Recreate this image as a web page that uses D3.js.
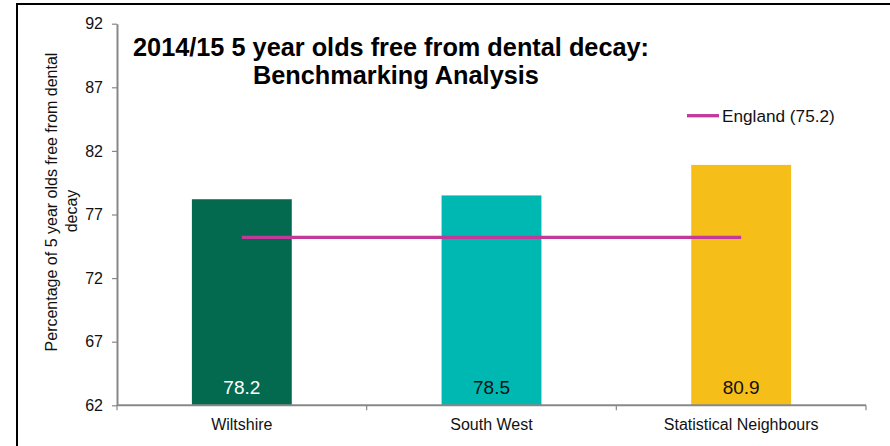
<!DOCTYPE html>
<html>
<head>
<meta charset="utf-8">
<script src="https://cdn.jsdelivr.net/npm/d3@7"></script>
<style>
  html, body { margin: 0; padding: 0; background: #fff; }
  svg { display: block; font-family: "Liberation Sans", Arial, sans-serif; }
</style>
</head>
<body>
<svg id="chart" width="890" height="446"></svg>
<script>
// Benchmarking data: share of 5 year olds free from dental decay, 2014/15
const categories = ["Wiltshire", "South West", "Statistical Neighbours"];
const values = [78.2, 78.5, 80.9];
const barColors = ["#036a50", "#00b8b2", "#f6be18"];
const labelColors = ["#ffffff", "#111111", "#111111"];
const englandValue = 75.2;
const englandLabel = "England (75.2)";
const yTicks = [62, 67, 72, 77, 82, 87, 92];
const titleLines = ["2014/15 5 year olds free from dental decay:", "Benchmarking Analysis"];
const yLabelLines = ["Percentage of 5 year olds free from dental", "decay"];

const svg = d3.select("#chart");
const axisColor = "#888888";

// chart frame
svg.append("path")
  .attr("d", "M17,446 L17,4 L890,4")
  .attr("fill", "none")
  .attr("stroke", "#000")
  .attr("stroke-width", 2);

const plot = { left: 117, right: 866, top: 23.7, bottom: 405.3 };

const x = d3.scaleBand()
  .domain(categories)
  .range([plot.left, plot.right])
  .paddingInner(0.6)
  .paddingOuter(0.3);

const y = d3.scaleLinear()
  .domain([62, 92])
  .range([plot.bottom, plot.top]);

// bars
svg.append("g").selectAll("rect")
  .data(categories)
  .join("rect")
  .attr("x", d => x(d))
  .attr("width", x.bandwidth())
  .attr("y", (d, i) => y(values[i]))
  .attr("height", (d, i) => y(62) - y(values[i]))
  .attr("fill", (d, i) => barColors[i]);

// value labels inside the bars
svg.append("g").selectAll("text")
  .data(categories)
  .join("text")
  .attr("x", d => x(d) + x.bandwidth() / 2)
  .attr("y", plot.bottom - 11.5)
  .attr("text-anchor", "middle")
  .attr("font-size", 19)
  .attr("fill", (d, i) => labelColors[i])
  .text((d, i) => values[i].toFixed(1));

// y axis
const yAxis = svg.append("g")
  .attr("transform", `translate(${plot.left},0)`)
  .call(d3.axisLeft(y).tickValues(yTicks).tickSize(5).tickSizeOuter(0).tickPadding(9));
yAxis.select(".domain").attr("stroke", axisColor).attr("stroke-width", 2);
yAxis.selectAll(".tick line").attr("stroke", axisColor).attr("stroke-width", 1.2);
yAxis.selectAll(".tick text")
  .attr("font-size", 16)
  .attr("font-family", "Liberation Sans, Arial, sans-serif")
  .attr("fill", "#111");

// x axis: labels at band centres, ticks at band boundaries
const xAxis = svg.append("g")
  .attr("transform", `translate(0,${plot.bottom})`)
  .call(d3.axisBottom(x).tickSize(0).tickSizeOuter(0).tickPadding(13));
xAxis.select(".domain").remove();
xAxis.selectAll(".tick text")
  .attr("font-size", 16)
  .attr("font-family", "Liberation Sans, Arial, sans-serif")
  .attr("fill", "#111");

const boundaries = [plot.left].concat(categories.map(d => x(d) - x.step() * x.paddingInner() / 2 + x.step()));
svg.append("line")
  .attr("x1", plot.left).attr("x2", plot.right)
  .attr("y1", plot.bottom).attr("y2", plot.bottom)
  .attr("stroke", axisColor).attr("stroke-width", 2);
svg.append("g").selectAll("line")
  .data(boundaries)
  .join("line")
  .attr("x1", d => d).attr("x2", d => d)
  .attr("y1", plot.bottom).attr("y2", plot.bottom + 5)
  .attr("stroke", axisColor).attr("stroke-width", 1.2);

// England benchmark line from first to last category centre
const centre = d => x(d) + x.bandwidth() / 2;
svg.append("line")
  .attr("x1", centre(categories[0]))
  .attr("x2", centre(categories[categories.length - 1]))
  .attr("y1", y(englandValue)).attr("y2", y(englandValue))
  .attr("stroke", "#c2399a")
  .attr("stroke-width", 3.3);

// legend
const legend = svg.append("g").attr("transform", "translate(687,115.7)");
legend.append("line")
  .attr("x1", 0).attr("x2", 32)
  .attr("stroke", "#c2399a").attr("stroke-width", 3.3);
legend.append("text")
  .attr("x", 35).attr("y", 6)
  .attr("font-size", 17.2)
  .attr("fill", "#111")
  .text(englandLabel);

// title
const title = svg.append("g").attr("font-weight", "bold").attr("font-size", 25.3).attr("fill", "#000");
title.append("text").attr("x", 133).attr("y", 55.5).text(titleLines[0]);
title.append("text").attr("x", 253).attr("y", 84).text(titleLines[1]);

// y axis title, two centred lines
const yl = svg.append("g").attr("font-size", 16).attr("fill", "#111").attr("text-anchor", "middle");
yl.append("text").attr("transform", "translate(57,202) rotate(-90)").text(yLabelLines[0]);
yl.append("text").attr("transform", "translate(77,211) rotate(-90)").text(yLabelLines[1]);
</script>
</body>
</html>
